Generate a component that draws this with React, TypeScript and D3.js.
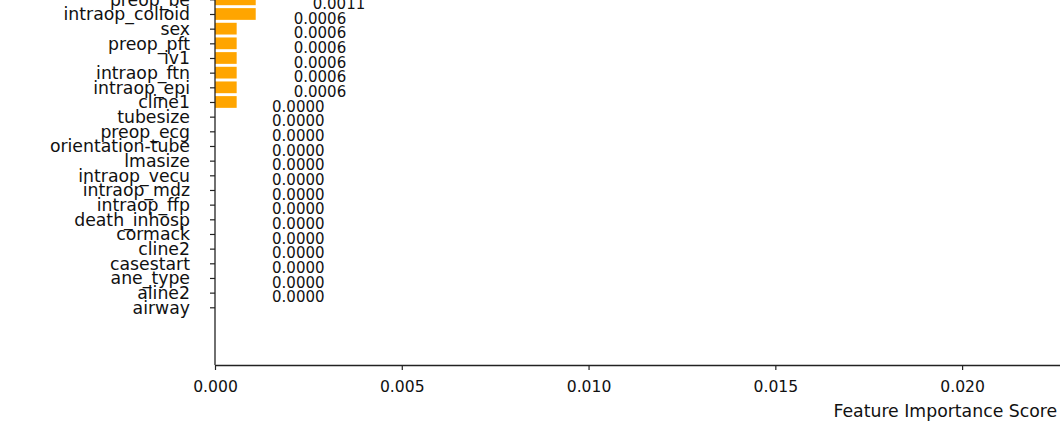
import * as d3 from "d3";
import { useEffect, useRef } from "react";
import * as React from "react";

// visible part of the feature importance list (top of the figure is cut off)
const features = [
  "preop_be",
  "intraop_colloid",
  "sex",
  "preop_pft",
  "iv1",
  "intraop_ftn",
  "intraop_epi",
  "cline1",
  "tubesize",
  "preop_ecg",
  "orientation-tube",
  "lmasize",
  "intraop_vecu",
  "intraop_mdz",
  "intraop_ffp",
  "death_inhosp",
  "cormack",
  "cline2",
  "casestart",
  "ane_type",
  "aline2",
  "airway",
];

const scores = [
  0.00109, 0.00109, 0.00058, 0.00058, 0.00058, 0.00058, 0.00058, 0.00058, 0,
  0, 0, 0, 0, 0, 0, 0, 0, 0, 0, 0, 0, 0,
];

const xTicks = [0, 0.005, 0.01, 0.015, 0.02, 0.025, 0.03, 0.035];

const FONT = "DejaVu Sans, sans-serif";

const App: React.FC = () => {
  const ref = useRef<SVGSVGElement>(null);

  useEffect(() => {
    const width = 1060;
    const height = 437;
    const left = 215;
    const bottom = 365;

    const svg = d3.select(ref.current);
    svg.selectAll("*").remove();

    // X axis scale, goes on past the right edge of the crop
    const x = d3.scaleLinear().domain([0, 0.0391]).range([left, 1675.6]);

    // rows, matplotlib style: one unit per bar
    const y = d3
      .scalePoint<string>()
      .domain(features)
      .range([-0.67, 307.3]);
    const step = y.step();
    const barH = step * 0.8;

    const data = features.map((f, i) => ({ label: f, value: scores[i] }));

    // Bars
    svg
      .append("g")
      .selectAll("rect")
      .data(data)
      .enter()
      .append("rect")
      .attr("x", x(0))
      .attr("y", (d) => (y(d.label) as number) - barH / 2)
      .attr("width", (d) => x(d.value) - x(0))
      .attr("height", barH)
      .attr("fill", "#FFA500");

    // Value labels
    svg
      .append("g")
      .selectAll("text")
      .data(data)
      .enter()
      .append("text")
      .attr("x", (d) => x(d.value + 0.0015) + 1)
      .attr("y", (d) => (y(d.label) as number) - step * 0.33)
      .attr("font-family", FONT)
      .attr("font-size", 15)
      .attr("fill", "#111")
      .text((d) => d.value.toFixed(4));

    // Y axis
    const gy = svg
      .append("g")
      .attr("transform", `translate(${left},0)`)
      .call(d3.axisLeft(y).tickSize(5).tickPadding(20).tickSizeOuter(0));
    gy.select(".domain").remove();
    gy.selectAll("line").attr("stroke", "#222").attr("stroke-width", 1.2);
    gy.selectAll("text")
      .attr("font-family", FONT)
      .attr("font-size", 17.3)
      .attr("fill", "#111")
      .attr("dy", "0.33em");

    svg
      .append("line")
      .attr("x1", left)
      .attr("x2", left)
      .attr("y1", -5)
      .attr("y2", bottom)
      .attr("stroke", "#222")
      .attr("stroke-width", 1.3);

    // X axis
    const gx = svg
      .append("g")
      .attr("transform", `translate(0,${bottom})`)
      .call(
        d3
          .axisBottom(x)
          .tickValues(xTicks)
          .tickFormat(d3.format(".3f"))
          .tickSize(5)
          .tickPadding(10.8)
          .tickSizeOuter(0)
      );
    gx.select(".domain").attr("stroke", "#222").attr("stroke-width", 1.3);
    gx.selectAll("line").attr("stroke", "#222").attr("stroke-width", 1.2);
    gx.selectAll("text")
      .attr("font-family", FONT)
      .attr("font-size", 15.6)
      .attr("fill", "#111");

    svg
      .append("text")
      .attr("x", (x.range()[0] + x.range()[1]) / 2)
      .attr("y", 416.5)
      .attr("text-anchor", "middle")
      .attr("font-family", FONT)
      .attr("font-size", 17.3)
      .attr("fill", "#111")
      .text("Feature Importance Score");

    svg.attr("width", width).attr("height", height);
  }, []);

  return (
    <svg
      ref={ref}
      width={1060}
      height={437}
      style={{ position: "absolute", left: 0, top: 0, background: "white" }}
    />
  );
};

export default App;
